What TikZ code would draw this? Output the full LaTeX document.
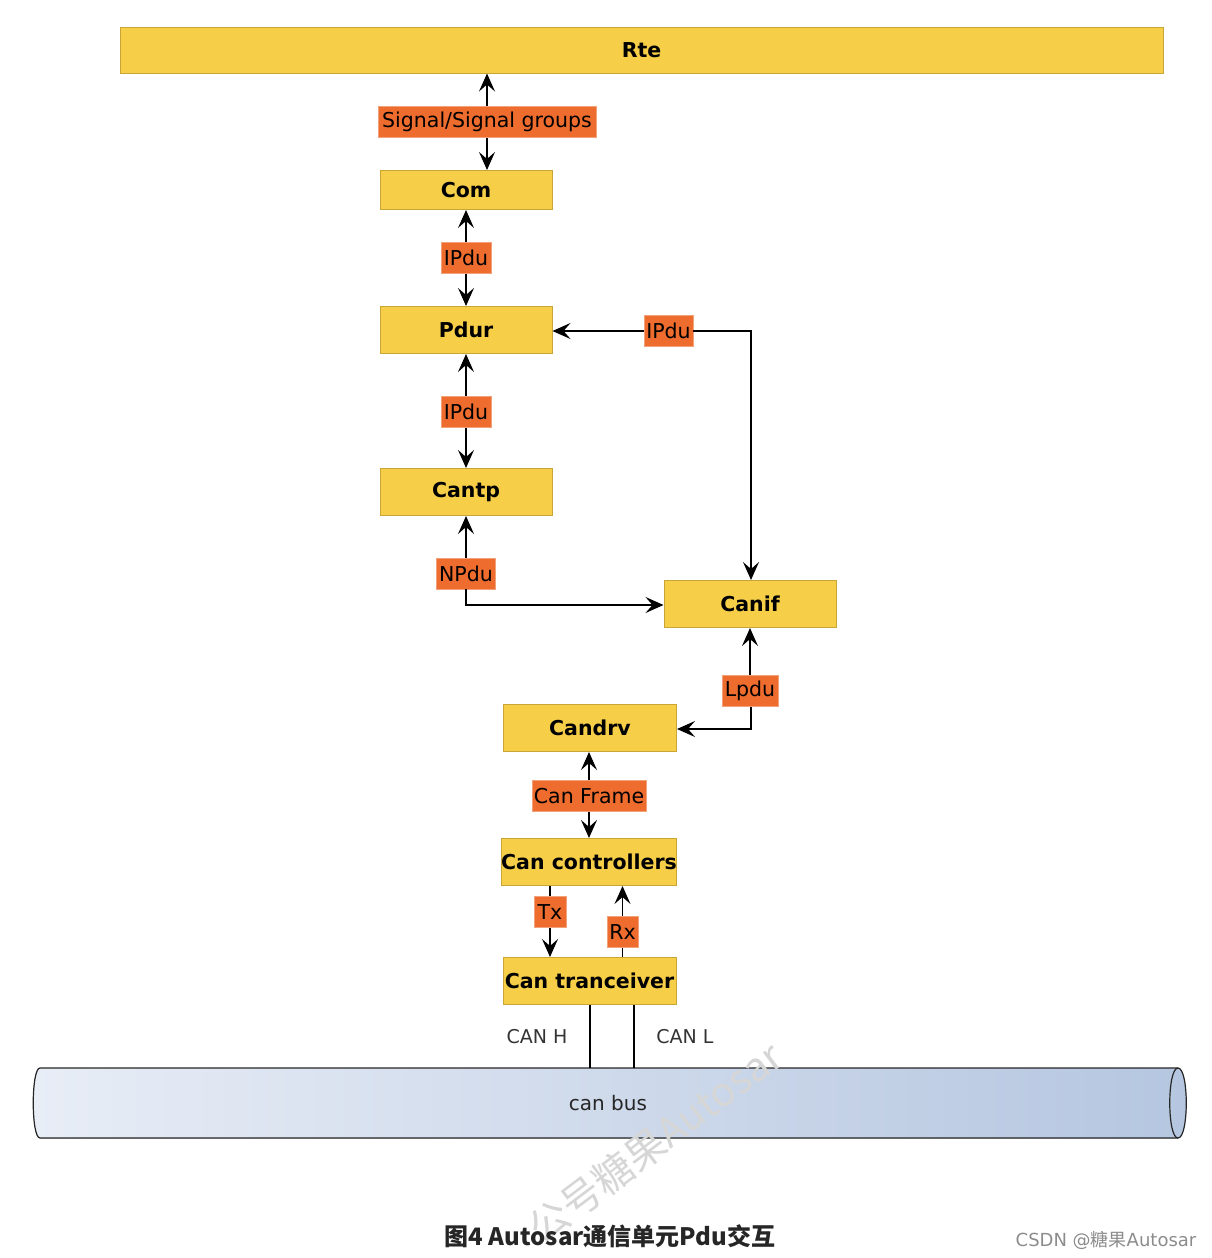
\documentclass[tikz,border=0pt]{standalone}
\usepackage{fontspec}
\setmainfont{DejaVu Sans}
\newfontfamily\cjk{Noto Sans CJK SC}
\usetikzlibrary{arrows.meta}
\definecolor{boxfill}{HTML}{F6CE47}
\definecolor{boxline}{HTML}{C8A535}
\definecolor{lblfill}{HTML}{EE6C2D}
\definecolor{lblline}{HTML}{F2A27A}
\definecolor{busl}{HTML}{E8EDF6}
\definecolor{busr}{HTML}{B5C6E0}
\tikzset{
  layer/.style={draw=boxline, line width=1pt, fill=boxfill, minimum height=47pt, minimum width=172pt, inner sep=0pt, font=\fontsize{20.5}{24}\selectfont\bfseries},
  lbl/.style={draw=lblline, line width=0.6pt, fill=lblfill, minimum height=31pt, inner xsep=1pt, inner ysep=0pt, font=\fontsize{20.5}{24}\selectfont},
  conn/.style={line width=1.3pt, draw=black},
  tip/.style={-{Stealth[length=18pt,width=16pt,inset=7pt]}},
}
\begin{document}
\begin{tikzpicture}[x=1pt,y=-1pt]
\useasboundingbox (0,0) rectangle (1212,1258);
% boxes
\node[layer, minimum width=1043pt, minimum height=46pt] (rte) at (641.5,50) {Rte};
\node[layer, minimum height=39pt] (com) at (466,190) {Com};
\node[layer] (pdur) at (466,330) {Pdur};
\node[layer] (cantp) at (466,492) {Cantp};
\node[layer] (canif) at (750,604) {Canif};
\node[layer, minimum width=173pt] (candrv) at (590,728) {Candrv};
\node[layer, minimum width=174pt] (ctrl) at (589,862) {Can controllers};
\node[layer, minimum width=173pt] (trcv) at (589.5,981) {Can tranceiver};
% labels
\node[lbl, minimum width=218pt] (sig) at (487,122) {Signal/Signal groups};
\node[lbl, minimum width=50pt] (ipdu1) at (466,258) {IPdu};
\node[lbl, minimum width=50pt] (ipdu2) at (466,412) {IPdu};
\node[lbl, minimum width=49pt] (ipdu3) at (668.5,331) {IPdu};
\node[lbl, minimum width=59pt] (npdu) at (466,573.5) {NPdu};
\node[lbl, minimum width=56pt] (lpdu) at (750,691) {Lpdu};
\node[lbl, minimum width=114pt] (frame) at (589,796) {Can Frame};
\node[lbl, minimum width=32pt] (tx) at (550,912) {Tx};
\node[lbl, minimum width=31pt] (rx) at (622.5,932) {Rx};
% connectors
\draw[conn,tip] (sig.north) -- (sig.north |- rte.south);
\draw[conn,tip] (sig.south) -- (sig.south |- com.north);
\draw[conn,tip] (ipdu1.north) -- (com.south);
\draw[conn,tip] (ipdu1.south) -- (pdur.north);
\draw[conn,tip] (ipdu2.north) -- (pdur.south);
\draw[conn,tip] (ipdu2.south) -- (cantp.north);
\draw[conn,tip] (ipdu3.west) -- (ipdu3.west -| pdur.east);
\coordinate (c1) at (751,331);
\draw[conn,tip] (ipdu3.east) -- (c1) -- (c1 |- canif.north);
\draw[conn,tip] (npdu.north) -- (cantp.south);
\coordinate (c2) at (466,605);
\draw[conn,tip] (npdu.south) -- (c2) -- (c2 -| canif.west);
\draw[conn,tip] (lpdu.north) -- (canif.south);
\coordinate (c3) at (751,729);
\draw[conn,tip] (lpdu.south -| c3) -- (c3) -- (c3 -| candrv.east);
\draw[conn,tip] (frame.north) -- (frame.north |- candrv.south);
\draw[conn,tip] (frame.south) -- (ctrl.north);
\draw[conn] (ctrl.south -| tx) -- (tx.north);
\draw[conn,tip] (tx.south) -- (tx |- trcv.north);
\draw[conn,tip] (rx.north) -- (rx |- ctrl.south);
\draw[conn] (rx.south) -- (rx |- trcv.north);
% bus
\fill[left color=busl, right color=busr] (40,1068) -- (1178,1068) .. controls (1189,1068) and (1189,1138) .. (1178,1138) -- (40,1138) .. controls (31,1138) and (31,1068) .. (40,1068) -- cycle;
\draw[line width=1.2pt, draw=black!85] (40,1068) -- (1178,1068) .. controls (1189,1068) and (1189,1138) .. (1178,1138) -- (40,1138) .. controls (31,1138) and (31,1068) .. (40,1068) -- cycle;
\draw[line width=1.2pt, draw=black!85] (1178,1068) .. controls (1167,1068) and (1167,1138) .. (1178,1138);
\node[font=\fontsize{20}{24}\selectfont, text=black!85] (bus) at (608,1103) {can bus};
\coordinate (bh) at (590,1068);
\coordinate (bl) at (634,1068);
\draw[line width=1.2pt] (trcv.south -| bh) -- (bh);
\draw[line width=1.2pt] (trcv.south -| bl) -- (bl);
\node[font=\fontsize{19}{22}\selectfont, text=black!80] (canh) at (537,1037) {CAN H};
\node[font=\fontsize{19}{22}\selectfont, text=black!80] (canl) at (685,1037) {CAN L};
% watermark
\node[font=\cjk\fontsize{40}{42}\selectfont, text=black!16, rotate=37] (wm) at (655,1142) {公号糖果Autosar};
% caption
\node[font=\cjk\fontsize{24}{28}\selectfont\bfseries, text=black!85] (cap) at (610,1236) {图4 Autosar通信单元Pdu交互};
\node[font=\fontsize{18}{22}\selectfont, text=black!45] (csdn) at (1106,1240) {CSDN @{\cjk 糖果}Autosar};
\end{tikzpicture}
\end{document}
